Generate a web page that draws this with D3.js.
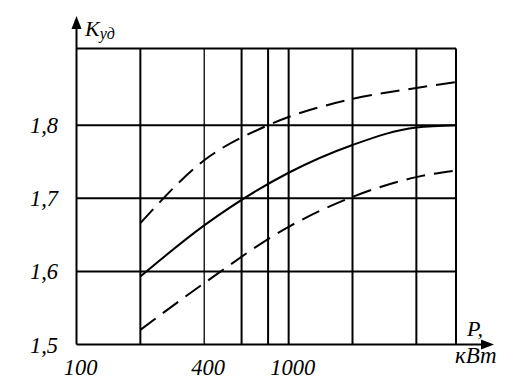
<!DOCTYPE html>
<html>
<head>
<meta charset="utf-8">
<script src="https://cdn.jsdelivr.net/npm/d3@7"></script>
<style>
  body { margin: 0; background: #fff; }
  text { font-family: "Liberation Serif", "Times New Roman", serif; font-style: italic; fill: #000; }
</style>
</head>
<body>
<div id="chart"></div>
<script>
// мощность, кВт (вертикальные линии сетки)
const gridP = [200, 400, 600, 800, 1000, 2000, 4000];
const tickP = [100, 400, 1000];
const tickK = [1.5, 1.6, 1.7, 1.8];

// кривые Kуд(P)
const upperP = [200, 400, 800, 2000, 4000, 6150];
const upperK = [1.666, 1.752, 1.800, 1.836, 1.851, 1.859];
const midP = [200, 400, 1000, 2000, 4000, 6150];
const midK = [1.593, 1.663, 1.735, 1.773, 1.797, 1.800];
const lowerP = [200, 400, 1000, 2000, 4000, 6150];
const lowerK = [1.520, 1.584, 1.661, 1.702, 1.729, 1.738];

const width = 518, height = 389;
const svg = d3.select("#chart").append("svg")
  .attr("width", width).attr("height", height);

// оси
const x = d3.scaleLog().domain([100, 6150]).range([76.5, 456]);
const y = d3.scaleLinear().domain([1.5, 1.905]).range([344.5, 48.5]);

const g = svg.append("g").attr("stroke", "#000").attr("fill", "none");

// горизонтальные линии
tickK.forEach(function(k) {
  g.append("line")
    .attr("x1", x(100)).attr("x2", x(6150))
    .attr("y1", y(k)).attr("y2", y(k))
    .attr("stroke-width", 2);
});
// рамка сверху и справа
g.append("line").attr("x1", x(100)).attr("x2", x(6150))
  .attr("y1", y(1.905)).attr("y2", y(1.905)).attr("stroke-width", 2);
g.append("line").attr("x1", x(6150)).attr("x2", x(6150))
  .attr("y1", y(1.905)).attr("y2", y(1.5)).attr("stroke-width", 2);

// вертикальные линии
gridP.forEach(function(p) {
  g.append("line")
    .attr("x1", x(p)).attr("x2", x(p))
    .attr("y1", y(1.905)).attr("y2", y(1.5))
    .attr("stroke-width", p === 400 ? 1.3 : 2);
});

// ось Y со стрелкой
g.append("line").attr("x1", x(100)).attr("x2", x(100))
  .attr("y1", y(1.5)).attr("y2", 24).attr("stroke-width", 2);
svg.append("path")
  .attr("d", d3.line()([[x(100), 16], [x(100) - 5, 29], [x(100) + 5, 29]]) + "Z")
  .attr("fill", "#000");

// ось X со стрелкой
g.append("line").attr("x1", x(6150)).attr("x2", 486)
  .attr("y1", y(1.5)).attr("y2", y(1.5)).attr("stroke-width", 2);
svg.append("path")
  .attr("d", d3.line()([[494, y(1.5)], [481, y(1.5) - 5], [481, y(1.5) + 5]]) + "Z")
  .attr("fill", "#000");

// кривые
const line = d3.line()
  .x(function(d) { return x(d[0]); })
  .y(function(d) { return y(d[1]); })
  .curve(d3.curveMonotoneX);

function curve(ps, ks, dash) {
  svg.append("path")
    .datum(d3.zip(ps, ks))
    .attr("fill", "none")
    .attr("stroke", "#000")
    .attr("stroke-width", 2)
    .attr("stroke-dasharray", dash)
    .attr("d", line);
}
curve(upperP, upperK, "19,9");
curve(midP, midK, null);
curve(lowerP, lowerK, "19,9");

// подписи
svg.selectAll(".ky").data(tickK).enter().append("text")
  .attr("x", 58).attr("y", function(d) { return y(d) + 8; })
  .attr("text-anchor", "end").style("font-size", "22.5px")
  .text(function(d) { return d3.format(".1f")(d).replace(".", ","); });

svg.selectAll(".kx").data(tickP).enter().append("text")
  .attr("x", function(d) { return x(d) + 4; }).attr("y", 375)
  .attr("text-anchor", "middle").style("font-size", "22.5px")
  .text(function(d) { return d; });

const ky = svg.append("text").attr("x", 85).attr("y", 36).style("font-size", "22px");
ky.append("tspan").text("K");
ky.append("tspan").style("font-size", "16px").attr("dy", 3).text("уд");

svg.append("text").attr("x", 467).attr("y", 336).style("font-size", "22px").text("P,");
svg.append("text").attr("x", 455).attr("y", 363).style("font-size", "23px").text("кВт");
</script>
</body>
</html>
